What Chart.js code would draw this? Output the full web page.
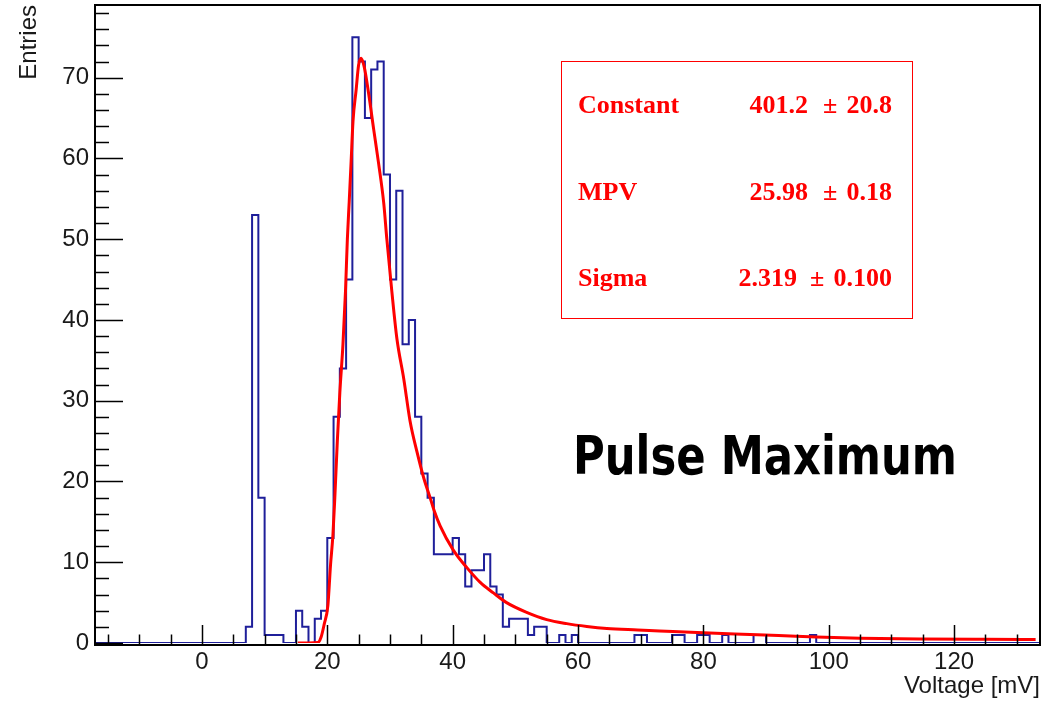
<!DOCTYPE html>
<html>
<head>
<meta charset="utf-8">
<script src="https://cdn.jsdelivr.net/npm/chart.js@4.4.1/dist/chart.umd.min.js"></script>
<style>
html,body{margin:0;padding:0;background:#fff;}
#wrap{width:1056px;height:702px;position:relative;}
</style>
</head>
<body>
<div id="wrap"><canvas id="c" width="1056" height="702"></canvas></div>
<script>
// ---- data ----
const axisXMin = -16.9, axisXMax = 133.7;      // Voltage [mV]
const axisYMin = 0, axisYMax = 79;             // Entries
const xTickLabels = [0, 20, 40, 60, 80, 100, 120];
const yTickLabels = [0, 10, 20, 30, 40, 50, 60, 70];

// histogram: bins of 1 mV, first listed bin starts at 7 mV
const binStart = 7;
const binWidth = 1;
const binCounts = [
  2, 53, 18, 1, 1, 1, 0, 0, 4, 2,        // 7..16
  0, 3, 4, 13, 28, 34, 45, 75, 72, 65,   // 17..26
  71, 72, 58, 45, 56, 37, 40, 28, 21, 18,// 27..36
  11, 11, 11, 13, 11, 7, 9, 9, 11, 7,    // 37..46
  6, 2, 3, 3, 3, 1, 2, 2, 0, 0,          // 47..56
  1, 0, 1, 0, 0, 0, 0, 0, 0, 0,          // 57..66
  0, 0, 1, 1, 0, 0, 0, 0, 1, 1,          // 67..76
  0, 0, 1, 1, 0, 0, 1, 0, 0, 0,          // 77..86
  0, 1, 1, 0, 0, 0, 0, 0, 0, 0,          // 87..96
  1                                      // 97
];

// Landau fit curve
const fitX = [15.3, 17, 18.5, 19, 19.5, 20.1, 20.5, 20.9, 21.2, 21.6, 22.0, 22.5, 22.9, 23.2, 23.5, 23.8, 24.1, 24.6, 25.0, 25.4, 25.9, 26.6, 27.4, 28.2, 29.0, 29.5, 30.3, 31.1, 32.2, 33.2, 34.3, 35.4, 36.4, 37.0, 38.0, 40.1, 42.3, 44.4, 46.5, 48.6, 51.8, 55.0, 58.2, 61.4, 64.6, 69.5, 73, 78, 85, 92, 98, 105, 115, 125, 133];
const fitY = [0, 0, 0.05, 0.7, 2.3, 4.7, 9.5, 13.4, 18, 25, 31, 37, 43.5, 50, 54.7, 59.6, 64.6, 68.5, 71.6, 72.4, 71.3, 68, 63.6, 59.3, 54.5, 50, 43.5, 37.7, 32.7, 27.5, 23.7, 20.4, 18, 16.5, 14.5, 11.5, 9.3, 7.5, 6.2, 5.0, 3.8, 2.9, 2.4, 2.05, 1.8, 1.62, 1.5, 1.32, 1.1, 0.93, 0.75, 0.6, 0.5, 0.45, 0.42];

// fit statistics box
const statNames  = ['Constant', 'MPV', 'Sigma'];
const statValues = ['401.2', '25.98', '2.319'];
const statErrors = ['20.8', '0.18', '0.100'];
const plotLabel = 'Pulse Maximum';

// ---- build datasets ----
const histData = [{x: axisXMin, y: 0}];
binCounts.forEach((c, i) => histData.push({x: binStart + i * binWidth, y: c}));
histData.push({x: binStart + binCounts.length * binWidth, y: 0});
histData.push({x: axisXMax, y: 0});
const fitData = fitX.map((x, i) => ({x: x, y: fitY[i]}));

const AXIS_FONT = '"Liberation Sans", Arial, Helvetica, sans-serif';
const BLUE = '#1f1f9a';
const RED = '#ff0000';

const framePlugin = {
  id: 'rootFrame',
  afterDatasetsDraw(chart) {
    const {ctx, chartArea: a, scales: {x, y}} = chart;
    ctx.save();
    ctx.strokeStyle = '#000';
    ctx.lineWidth = 2;
    // frame
    ctx.beginPath();
    ctx.moveTo(a.left - 1, a.top);
    ctx.lineTo(a.right, a.top);
    ctx.lineTo(a.right, a.bottom + 2);
    ctx.lineTo(a.left - 1, a.bottom + 2);
    ctx.closePath();
    ctx.stroke();
    ctx.lineWidth = 1.5;
    // x ticks: major every 20, minor every 5 (pointing up, inside)
    for (let v = Math.ceil(x.min / 5) * 5; v <= x.max; v += 5) {
      const px = Math.round(x.getPixelForValue(v)) + 0.5;
      const len = (v % 20 === 0) ? 19 : 9.5;
      ctx.beginPath();
      ctx.moveTo(px, a.bottom + 1);
      ctx.lineTo(px, a.bottom + 1 - len);
      ctx.stroke();
    }
    // y ticks: major every 10, minor every 2 (pointing right, inside)
    for (let v = Math.ceil(y.min / 2) * 2; v <= y.max; v += 2) {
      const py = Math.round(y.getPixelForValue(v)) + 0.5;
      const len = (v % 10 === 0) ? 28 : 14;
      ctx.beginPath();
      ctx.moveTo(a.left - 1, py);
      ctx.lineTo(a.left - 1 + len, py);
      ctx.stroke();
    }
    ctx.restore();
  },
  afterDraw(chart) {
    const ctx = chart.ctx;
    ctx.save();
    // stats box
    ctx.fillStyle = '#fff';
    ctx.fillRect(561.5, 61.5, 351, 257);
    ctx.strokeStyle = RED;
    ctx.lineWidth = 1;
    ctx.strokeRect(561.5, 61.5, 351, 257);
    ctx.fillStyle = RED;
    ctx.font = 'bold 26px "Liberation Serif", "Times New Roman", serif';
    ctx.textBaseline = 'alphabetic';
    const rowY = [113, 200, 286];
    const valEnd = [808, 808, 797];
    const pmX = [823, 823, 810];
    statNames.forEach((n, i) => {
      ctx.textAlign = 'left';
      ctx.fillText(n, 578, rowY[i]);
      ctx.textAlign = 'right';
      ctx.fillText(statValues[i], valEnd[i], rowY[i]);
      ctx.textAlign = 'left';
      ctx.fillText('\u00B1', pmX[i], rowY[i]);
      ctx.textAlign = 'right';
      ctx.fillText(statErrors[i], 892, rowY[i]);
    });
    // big label
    ctx.fillStyle = '#000';
    ctx.font = 'bold 54px "DejaVu Sans", sans-serif';
    ctx.textAlign = 'left';
    const w = ctx.measureText(plotLabel).width;
    const targetW = 384;
    ctx.translate(573, 474);
    ctx.scale(targetW / w, 1);
    ctx.fillText(plotLabel, 0, 0);
    ctx.restore();
  }
};

new Chart(document.getElementById('c'), {
  type: 'line',
  data: {
    datasets: [
      {
        label: 'Landau fit',
        data: fitData,
        borderColor: RED,
        borderWidth: 3,
        pointRadius: 0,
        fill: false,
        cubicInterpolationMode: 'monotone',
        order: 0
      },
      {
        label: 'Pulse maximum',
        data: histData,
        borderColor: BLUE,
        borderWidth: 2,
        pointRadius: 0,
        fill: false,
        stepped: 'before',
        order: 1
      }
    ]
  },
  options: {
    responsive: false,
    animation: false,
    devicePixelRatio: 1,
    parsing: true,
    layout: {padding: {top: 5, right: 16, bottom: 0, left: 0}},
    plugins: {legend: {display: false}, tooltip: {enabled: false}},
    scales: {
      x: {
        type: 'linear',
        min: axisXMin,
        max: axisXMax,
        grid: {display: false, drawTicks: false},
        border: {display: false},
        ticks: {padding: 5, color: '#1a1a1a', font: {family: AXIS_FONT, size: 24}, maxRotation: 0, autoSkip: false},
        afterBuildTicks: s => { s.ticks = xTickLabels.map(v => ({value: v})); },
        afterFit: s => { s.height = 59; s.paddingLeft = 0; s.paddingRight = 0; },
        title: {display: true, text: 'Voltage [mV]', align: 'end', color: '#1a1a1a',
                font: {family: AXIS_FONT, size: 24}, padding: {top: 0, bottom: 1}}
      },
      y: {
        type: 'linear',
        min: axisYMin,
        max: axisYMax,
        grid: {display: false, drawTicks: false},
        border: {display: false},
        ticks: {padding: 7, color: '#1a1a1a', font: {family: AXIS_FONT, size: 24}, autoSkip: false},
        afterBuildTicks: s => { s.ticks = yTickLabels.map(v => ({value: v})); },
        afterFit: s => { s.width = 96; s.paddingTop = 0; s.paddingBottom = 0; },
        title: {display: true, text: 'Entries', align: 'end', color: '#1a1a1a',
                font: {family: AXIS_FONT, size: 24}, padding: {top: 15, bottom: 0}}
      }
    }
  },
  plugins: [framePlugin]
});
</script>
</body>
</html>
